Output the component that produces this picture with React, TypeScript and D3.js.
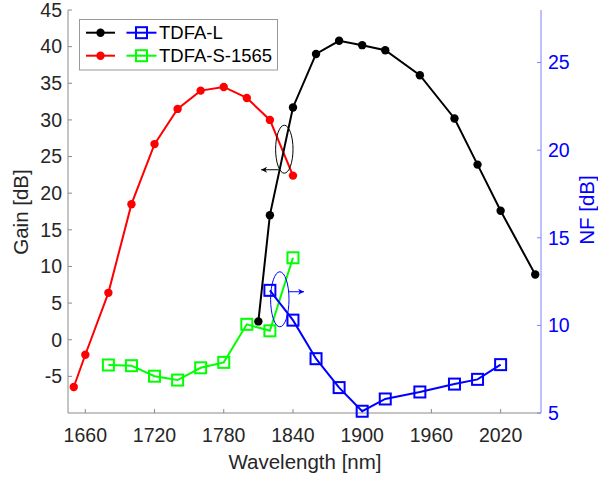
import React, { useEffect, useRef } from "react";
import * as d3 from "d3";

// Wavelength grid (nm) and measured values
const wlL = [1810, 1820, 1840, 1860, 1880, 1900, 1920, 1950, 1980, 2000, 2020, 2050];
const gainL = [2.5, 17.0, 31.7, 39.0, 40.8, 40.2, 39.5, 36.1, 30.2, 23.9, 17.6, 8.9];

const wlS = [1650, 1660, 1680, 1700, 1720, 1740, 1760, 1780, 1800, 1820, 1840];
const gainS = [-6.45, -2.05, 6.4, 18.5, 26.7, 31.5, 34.0, 34.5, 33.0, 30.0, 22.4];

const wlNFL = [1820, 1840, 1860, 1880, 1900, 1920, 1950, 1980, 2000, 2020];
const nfL = [12.0, 10.3, 8.1, 6.45, 5.1, 5.8, 6.2, 6.65, 6.92, 7.76];

const wlNFS = [1680, 1700, 1720, 1740, 1760, 1780, 1800, 1820, 1840];
const nfS = [7.74, 7.7, 7.1, 6.88, 7.58, 7.89, 10.06, 9.69, 13.86];

const xTicks = [1660, 1720, 1780, 1840, 1900, 1960, 2020];
const gainTicks = [-5, 0, 5, 10, 15, 20, 25, 30, 35, 40, 45];
const nfTicks = [5, 10, 15, 20, 25];

const W = 598;
const H = 480;
const FONT = "'Liberation Sans', Arial, Helvetica, sans-serif";

export default function App() {
  const ref = useRef<SVGSVGElement>(null);

  useEffect(() => {
    const svg = d3.select(ref.current);
    svg.selectAll("*").remove();

    const left = 68, right = 541, top = 10, bottom = 413;
    const x = d3.scaleLinear().domain([1645, 2055]).range([left, right]);
    const yG = d3.scaleLinear().domain([-10, 45]).range([bottom, top]);
    const yN = d3.scaleLinear().domain([5, 28]).range([bottom, top]);

    const axisGray = "#8a8a8a";
    const textCol = "#262626";
    const blueAxis = "#8080ff";

    // axes lines
    svg.append("line").attr("x1", left).attr("x2", left).attr("y1", top).attr("y2", bottom)
      .attr("stroke", axisGray).attr("stroke-width", 1);
    svg.append("line").attr("x1", left).attr("x2", right).attr("y1", bottom).attr("y2", bottom)
      .attr("stroke", axisGray).attr("stroke-width", 1);
    svg.append("line").attr("x1", right).attr("x2", right).attr("y1", top).attr("y2", bottom)
      .attr("stroke", blueAxis).attr("stroke-width", 1);

    // x ticks
    const xt = svg.append("g");
    xTicks.forEach((t) => {
      xt.append("line").attr("x1", x(t)).attr("x2", x(t)).attr("y1", bottom).attr("y2", bottom - 4)
        .attr("stroke", axisGray);
      xt.append("text").attr("x", x(t)).attr("y", 442).attr("text-anchor", "middle")
        .attr("font-size", 19.5).attr("font-family", FONT).attr("fill", textCol).text(t);
    });

    // left ticks
    gainTicks.forEach((t) => {
      svg.append("line").attr("x1", left).attr("x2", left + 4).attr("y1", yG(t)).attr("y2", yG(t))
        .attr("stroke", axisGray);
      svg.append("text").attr("x", 62).attr("y", yG(t)).attr("dy", "0.35em").attr("text-anchor", "end")
        .attr("font-size", 19.5).attr("font-family", FONT).attr("fill", textCol).text(t);
    });

    // right ticks
    nfTicks.forEach((t) => {
      svg.append("line").attr("x1", right).attr("x2", right - 4).attr("y1", yN(t)).attr("y2", yN(t))
        .attr("stroke", blueAxis);
      svg.append("text").attr("x", 548).attr("y", yN(t)).attr("dy", "0.35em").attr("text-anchor", "start")
        .attr("font-size", 19.5).attr("font-family", FONT).attr("fill", "#0000ff").text(t);
    });

    // axis labels
    svg.append("text").attr("x", 305).attr("y", 469).attr("text-anchor", "middle")
      .attr("font-size", 20.5).attr("font-family", FONT).attr("fill", textCol).text("Wavelength [nm]");
    svg.append("text").attr("transform", `translate(28,212) rotate(-90)`).attr("text-anchor", "middle")
      .attr("font-size", 20.5).attr("font-family", FONT).attr("fill", textCol).text("Gain [dB]");
    svg.append("text").attr("transform", `translate(594,210) rotate(-90)`).attr("text-anchor", "middle")
      .attr("font-size", 20.5).attr("font-family", FONT).attr("fill", "#0000ff").text("NF [dB]");

    const lineG = (xs: number[], ys: number[], sy: d3.ScaleLinear<number, number>) =>
      d3.line<number>().x((_, i) => x(xs[i])).y((v) => sy(v))(ys) as string;

    const drawDots = (xs: number[], ys: number[], color: string) => {
      svg.append("path").attr("d", lineG(xs, ys, yG)).attr("fill", "none")
        .attr("stroke", color).attr("stroke-width", 2);
      ys.forEach((v, i) => {
        svg.append("circle").attr("cx", x(xs[i])).attr("cy", yG(v)).attr("r", 4.2).attr("fill", color);
      });
    };
    const drawSquares = (xs: number[], ys: number[], color: string) => {
      svg.append("path").attr("d", lineG(xs, ys, yN)).attr("fill", "none")
        .attr("stroke", color).attr("stroke-width", 2);
      ys.forEach((v, i) => {
        svg.append("rect").attr("x", x(xs[i]) - 5.5).attr("y", yN(v) - 5.5).attr("width", 11).attr("height", 11)
          .attr("fill", "none").attr("stroke", color).attr("stroke-width", 2);
      });
    };

    drawDots(wlS, gainS, "#ff0000");
    drawDots(wlL, gainL, "#000000");
    drawSquares(wlNFS, nfS, "#00ff00");
    drawSquares(wlNFL, nfL, "#0000ff");

    // markers for arrow heads
    const defs = svg.append("defs");
    [["arrK", "#000000"], ["arrB", "#0000ff"]].forEach(([id, c]) => {
      defs.append("marker").attr("id", id).attr("viewBox", "0 0 10 10").attr("refX", 10).attr("refY", 5)
        .attr("markerWidth", 7).attr("markerHeight", 6).attr("markerUnits", "userSpaceOnUse")
        .attr("orient", "auto")
        .append("path").attr("d", "M0,0 L10,5 L0,10 L3,5 Z").attr("fill", c);
    });

    // gain group callout (points to left axis)
    svg.append("ellipse").attr("cx", x(1832.5)).attr("cy", yG(26.0)).attr("rx", 8.7).attr("ry", 24)
      .attr("fill", "none").attr("stroke", "#000").attr("stroke-width", 1);
    svg.append("line").attr("x1", x(1827.6)).attr("y1", yG(23.2)).attr("x2", x(1812.4)).attr("y2", yG(23.2))
      .attr("stroke", "#000").attr("stroke-width", 1).attr("marker-end", "url(#arrK)");

    // NF group callout (points to right axis)
    svg.append("ellipse").attr("cx", x(1828.6)).attr("cy", yN(11.49)).attr("rx", 9.2).attr("ry", 27.5)
      .attr("fill", "none").attr("stroke", "#0000ff").attr("stroke-width", 1);
    svg.append("line").attr("x1", x(1836)).attr("y1", yN(11.92)).attr("x2", x(1849.6)).attr("y2", yN(11.92))
      .attr("stroke", "#0000ff").attr("stroke-width", 1).attr("marker-end", "url(#arrB)");

    // legend
    const lg = svg.append("g");
    lg.append("rect").attr("x", 79.5).attr("y", 19.5).attr("width", 198).attr("height", 50.5)
      .attr("fill", "#fff").attr("stroke", "#999").attr("stroke-width", 1);
    const rows: [string, string, string][] = [
      ["#000000", "#0000ff", "TDFA-L"],
      ["#ff0000", "#00ff00", "TDFA-S-1565"],
    ];
    rows.forEach(([c1, c2, label], i) => {
      const yy = 32.7 + i * 23;
      lg.append("line").attr("x1", 86).attr("x2", 115).attr("y1", yy).attr("y2", yy)
        .attr("stroke", c1).attr("stroke-width", 2);
      lg.append("circle").attr("cx", 100.5).attr("cy", yy).attr("r", 4.2).attr("fill", c1);
      lg.append("line").attr("x1", 126.5).attr("x2", 156.5).attr("y1", yy).attr("y2", yy)
        .attr("stroke", c2).attr("stroke-width", 2);
      lg.append("rect").attr("x", 141.5 - 5.5).attr("y", yy - 5.5).attr("width", 11).attr("height", 11)
        .attr("fill", "none").attr("stroke", c2).attr("stroke-width", 2);
      lg.append("text").attr("x", 159).attr("y", yy).attr("dy", "0.36em")
        .attr("font-size", 18.5).attr("font-family", FONT).attr("fill", "#000").text(label);
    });
  }, []);

  return (
    <svg
      ref={ref}
      width={W}
      height={H}
      style={{ position: "fixed", left: 0, top: 0, background: "#fff" }}
    />
  );
}
